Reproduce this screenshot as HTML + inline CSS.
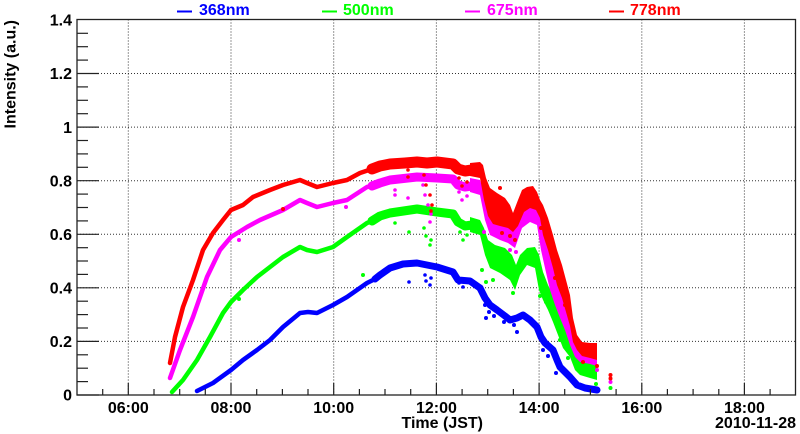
<!DOCTYPE html>
<html>
<head>
<meta charset="utf-8">
<style>
html,body{margin:0;padding:0;background:#fff;}
svg{display:block;}
text{font-family:"Liberation Sans",Arial,sans-serif;font-weight:bold;font-size:16px;fill:#000;}
</style>
</head>
<body>
<svg width="800" height="434" viewBox="0 0 800 434" xmlns="http://www.w3.org/2000/svg">
<rect x="0" y="0" width="800" height="434" fill="#fff"/>

<!-- grid -->
<g stroke="#333" stroke-width="1" stroke-dasharray="1 2" fill="none">
  <line x1="77" y1="341.4" x2="795.5" y2="341.4"/>
  <line x1="77" y1="287.8" x2="795.5" y2="287.8"/>
  <line x1="77" y1="234.3" x2="795.5" y2="234.3"/>
  <line x1="77" y1="180.7" x2="795.5" y2="180.7"/>
  <line x1="77" y1="127.1" x2="795.5" y2="127.1"/>
  <line x1="77" y1="73.5" x2="795.5" y2="73.5"/>
  <line x1="128.3" y1="19.5" x2="128.3" y2="395"/>
  <line x1="231" y1="19.5" x2="231" y2="395"/>
  <line x1="333.7" y1="19.5" x2="333.7" y2="395"/>
  <line x1="436.4" y1="19.5" x2="436.4" y2="395"/>
  <line x1="539.1" y1="19.5" x2="539.1" y2="395"/>
  <line x1="641.8" y1="19.5" x2="641.8" y2="395"/>
  <line x1="744.4" y1="19.5" x2="744.4" y2="395"/>
</g>

<!-- data -->
<g fill="none" stroke-linejoin="round" stroke-linecap="round">
  <!-- blue 368nm -->
  <polyline stroke="#0000ff" stroke-width="4.5" points="197,391 213,383 231,370 243,360 257,350 270,340 283,327 300,313 308,312 317,313 333,305 347,297 367,283 375,279"/>
  <polyline stroke="#0000ff" stroke-width="7" points="375,279 380,275 390,268 403,264 417,263 437,267 453,272 458,280 470,281 480,288"/>
  <polyline stroke="#0000ff" stroke-width="7" points="480,288 485,298 490,305 497,310 505,316 510,320 517,318 523,315 530,320 537,327 541,337 545,343 553,350 557,360 560,367 565,372 570,377 577,385 585,388 597,390"/>
  <g fill="#0000ff" stroke="none">
    <circle cx="409" cy="282" r="1.8"/><circle cx="425" cy="275" r="1.8"/><circle cx="426" cy="281" r="1.8"/>
    <circle cx="431" cy="278" r="1.8"/><circle cx="430" cy="285" r="1.8"/><circle cx="459" cy="283" r="1.8"/>
    <circle cx="463" cy="287" r="1.8"/>
    <circle cx="485" cy="305" r="2"/><circle cx="489" cy="312" r="2"/><circle cx="494" cy="316" r="2"/>
    <circle cx="504" cy="322" r="2"/><circle cx="514" cy="325" r="2"/><circle cx="517" cy="332" r="2"/>
    <circle cx="543" cy="350" r="2"/><circle cx="548" cy="356" r="2"/><circle cx="486" cy="318" r="2"/>
    <circle cx="556" cy="373" r="2"/>
  </g>

  <!-- green 500nm -->
  <polyline stroke="#00ff00" stroke-width="4.5" points="172,392 183,380 197,360 210,337 223,313 231,302 243,290 257,277 270,267 283,257 300,247 307,250 317,252 333,247 347,237 367,223 372,221"/>
  <polyline stroke="#00ff00" stroke-width="9" points="372,221 380,216 390,213 417,209 437,212 453,214 458,222 465,226 472,225"/>
  <polygon fill="#00ff00" stroke="none" points="470,217 480,220 484,228 488,240 495,245 505,248 512,255 516,265 520,255 527,248 535,247 539,255 543,272 548,285 553,295 558,310 563,322 570,338 575,355 580,360 590,362 597,364 597,380 590,378 580,375 575,370 570,357 563,348 558,335 553,322 548,310 543,300 539,290 535,268 527,265 520,275 515,290 510,280 500,273 490,268 485,255 480,235 470,232"/>
  <g fill="#00ff00" stroke="none">
    <circle cx="239" cy="299" r="2"/><circle cx="363" cy="275" r="2"/>
    <circle cx="395" cy="223" r="1.8"/><circle cx="409" cy="232" r="1.8"/><circle cx="424" cy="228" r="1.8"/>
    <circle cx="426" cy="236" r="1.8"/><circle cx="431" cy="240" r="1.8"/><circle cx="430" cy="245" r="1.8"/>
    <circle cx="460" cy="232" r="1.8"/><circle cx="463" cy="240" r="1.8"/><circle cx="467" cy="235" r="1.8"/>
    <circle cx="486" cy="282" r="2"/><circle cx="482" cy="270" r="2"/><circle cx="493" cy="280" r="2"/>
    <circle cx="513" cy="293" r="2"/><circle cx="540" cy="296" r="2"/><circle cx="546" cy="302" r="2"/>
    <circle cx="560" cy="340" r="2"/><circle cx="568" cy="358" r="2"/><circle cx="596" cy="384" r="2"/>
    <circle cx="610.5" cy="388" r="2"/>
  </g>

  <!-- magenta 675nm -->
  <polyline stroke="#ff00ff" stroke-width="4.5" points="170,378 180,350 193,317 207,277 220,250 231,237 247,227 260,220 283,210 300,200 307,203 317,207 333,203 347,200 367,187 372,186"/>
  <polyline stroke="#ff00ff" stroke-width="9" points="372,186 380,183 390,180 417,177 437,178 453,179 458,185 465,187 472,186"/>
  <polygon fill="#ff00ff" stroke="none" points="470,178 480,180 485,195 490,205 500,210 510,215 515,225 520,210 527,203 535,203 540,212 545,230 550,245 555,265 560,285 565,300 570,315 574,335 578,348 590,350 597,350 597,366 590,364 580,362 575,357 570,345 565,330 560,318 555,305 550,290 545,268 541,250 537,225 530,222 522,228 515,248 508,243 500,240 490,235 485,220 480,195 470,192"/>
  <g fill="#ff00ff" stroke="none">
    <circle cx="239" cy="240" r="2"/><circle cx="346" cy="207" r="2"/>
    <circle cx="395" cy="190" r="1.8"/><circle cx="395" cy="195" r="1.8"/><circle cx="408" cy="198" r="1.8"/>
    <circle cx="423" cy="185" r="1.8"/><circle cx="425" cy="195" r="1.8"/><circle cx="428" cy="205" r="1.8"/>
    <circle cx="431" cy="214" r="1.8"/><circle cx="430" cy="222" r="1.8"/><circle cx="459" cy="192" r="1.8"/>
    <circle cx="462" cy="200" r="1.8"/><circle cx="467" cy="196" r="1.8"/>
    <circle cx="510" cy="250" r="2"/><circle cx="516" cy="252" r="2"/><circle cx="484" cy="232" r="2"/>
    <circle cx="562" cy="312" r="2"/><circle cx="575" cy="350" r="2"/><circle cx="597" cy="370" r="2"/>
    <circle cx="610.5" cy="382" r="2"/>
  </g>

  <!-- red 778nm -->
  <polyline stroke="#ff0000" stroke-width="4.5" points="170,363 175,337 183,307 193,280 203,250 213,233 223,220 231,210 243,205 253,197 270,190 283,185 300,180 307,183 317,187 333,183 347,180 360,173 372,169"/>
  <polyline stroke="#ff0000" stroke-width="11" points="372,169 380,166 390,164 405,163 417,162 427,163 437,162 453,164 458,169 465,171 472,170"/>
  <polygon fill="#ff0000" stroke="none" points="470,163 480,162 483,165 486,178 490,188 497,193 505,198 510,205 513,213 518,200 522,190 527,187 533,186 537,192 540,200 543,205 548,218 553,235 557,250 562,265 566,280 570,295 573,318 577,335 582,342 590,343 597,343 597,360 590,358 582,356 577,350 573,342 570,326 566,312 562,298 557,285 553,268 548,250 543,235 540,218 536,210 530,208 524,212 518,226 513,232 508,228 500,226 493,224 488,216 484,200 480,178 470,176"/>
  <g fill="#ff0000" stroke="none">
    <circle cx="283" cy="209" r="2"/>
    <circle cx="408" cy="170" r="1.8"/><circle cx="408" cy="177" r="1.8"/><circle cx="424" cy="175" r="1.8"/>
    <circle cx="426" cy="185" r="1.8"/><circle cx="430" cy="195" r="1.8"/><circle cx="432" cy="205" r="1.8"/>
    <circle cx="431" cy="211" r="1.8"/><circle cx="459" cy="178" r="1.8"/><circle cx="462" cy="186" r="1.8"/>
    <circle cx="467" cy="182" r="1.8"/>
    <circle cx="502" cy="233" r="2"/><circle cx="510" cy="236" r="2"/><circle cx="515" cy="240" r="2"/>
    <circle cx="541" cy="228" r="2"/><circle cx="555" cy="278" r="2"/><circle cx="565" cy="305" r="2"/>
    <circle cx="583" cy="362" r="2"/><circle cx="597" cy="366" r="2"/><circle cx="500" cy="188" r="2"/>
    <circle cx="610.5" cy="375" r="2"/><circle cx="610.5" cy="378.5" r="2"/>
  </g>
</g>

<!-- frame -->
<rect x="77" y="19.5" width="718.5" height="375.5" fill="none" stroke="#222" stroke-width="1.3"/>

<!-- y ticks -->
<g stroke="#222" stroke-width="1.2">
  <line x1="77" y1="395" x2="99" y2="395"/>
  <line x1="77" y1="341.4" x2="99" y2="341.4"/>
  <line x1="77" y1="287.8" x2="99" y2="287.8"/>
  <line x1="77" y1="234.3" x2="99" y2="234.3"/>
  <line x1="77" y1="180.7" x2="99" y2="180.7"/>
  <line x1="77" y1="127.1" x2="99" y2="127.1"/>
  <line x1="77" y1="73.5" x2="99" y2="73.5"/>
  <line x1="77" y1="381.6" x2="88" y2="381.6"/>
  <line x1="77" y1="368.2" x2="88" y2="368.2"/>
  <line x1="77" y1="354.8" x2="88" y2="354.8"/>
  <line x1="77" y1="328.0" x2="88" y2="328.0"/>
  <line x1="77" y1="314.6" x2="88" y2="314.6"/>
  <line x1="77" y1="301.2" x2="88" y2="301.2"/>
  <line x1="77" y1="274.4" x2="88" y2="274.4"/>
  <line x1="77" y1="261.0" x2="88" y2="261.0"/>
  <line x1="77" y1="247.7" x2="88" y2="247.7"/>
  <line x1="77" y1="220.9" x2="88" y2="220.9"/>
  <line x1="77" y1="207.5" x2="88" y2="207.5"/>
  <line x1="77" y1="194.1" x2="88" y2="194.1"/>
  <line x1="77" y1="167.3" x2="88" y2="167.3"/>
  <line x1="77" y1="153.9" x2="88" y2="153.9"/>
  <line x1="77" y1="140.5" x2="88" y2="140.5"/>
  <line x1="77" y1="113.7" x2="88" y2="113.7"/>
  <line x1="77" y1="100.3" x2="88" y2="100.3"/>
  <line x1="77" y1="86.9" x2="88" y2="86.9"/>
  <line x1="77" y1="60.1" x2="88" y2="60.1"/>
  <line x1="77" y1="46.7" x2="88" y2="46.7"/>
  <line x1="77" y1="33.3" x2="88" y2="33.3"/>
</g>

<!-- x ticks -->
<g stroke="#222" stroke-width="1.2">
  <line x1="102.7" y1="395" x2="102.7" y2="389"/>
  <line x1="128.3" y1="395" x2="128.3" y2="383"/>
  <line x1="154.0" y1="395" x2="154.0" y2="389"/>
  <line x1="179.7" y1="395" x2="179.7" y2="389"/>
  <line x1="205.3" y1="395" x2="205.3" y2="389"/>
  <line x1="231.0" y1="395" x2="231.0" y2="383"/>
  <line x1="256.7" y1="395" x2="256.7" y2="389"/>
  <line x1="282.4" y1="395" x2="282.4" y2="389"/>
  <line x1="308.0" y1="395" x2="308.0" y2="389"/>
  <line x1="333.7" y1="395" x2="333.7" y2="383"/>
  <line x1="359.4" y1="395" x2="359.4" y2="389"/>
  <line x1="385.0" y1="395" x2="385.0" y2="389"/>
  <line x1="410.7" y1="395" x2="410.7" y2="389"/>
  <line x1="436.4" y1="395" x2="436.4" y2="383"/>
  <line x1="462.1" y1="395" x2="462.1" y2="389"/>
  <line x1="487.7" y1="395" x2="487.7" y2="389"/>
  <line x1="513.4" y1="395" x2="513.4" y2="389"/>
  <line x1="539.1" y1="395" x2="539.1" y2="383"/>
  <line x1="564.7" y1="395" x2="564.7" y2="389"/>
  <line x1="590.4" y1="395" x2="590.4" y2="389"/>
  <line x1="616.1" y1="395" x2="616.1" y2="389"/>
  <line x1="641.8" y1="395" x2="641.8" y2="383"/>
  <line x1="667.4" y1="395" x2="667.4" y2="389"/>
  <line x1="693.1" y1="395" x2="693.1" y2="389"/>
  <line x1="718.8" y1="395" x2="718.8" y2="389"/>
  <line x1="744.4" y1="395" x2="744.4" y2="383"/>
  <line x1="770.1" y1="395" x2="770.1" y2="389"/>
</g>

<!-- y labels -->
<g text-anchor="end">
  <text x="72" y="400.7">0</text>
  <text x="72" y="347.1">0.2</text>
  <text x="72" y="293.5">0.4</text>
  <text x="72" y="240.0">0.6</text>
  <text x="72" y="186.4">0.8</text>
  <text x="72" y="132.8">1</text>
  <text x="72" y="79.2">1.2</text>
  <text x="72" y="25.6">1.4</text>
</g>

<!-- x labels -->
<g text-anchor="middle">
  <text x="128.3" y="413">06:00</text>
  <text x="231" y="413">08:00</text>
  <text x="333.7" y="413">10:00</text>
  <text x="436.4" y="413">12:00</text>
  <text x="539.1" y="413">14:00</text>
  <text x="641.8" y="413">16:00</text>
  <text x="744.4" y="413">18:00</text>
</g>
<text x="483" y="428" text-anchor="end">Time (JST)</text>
<text x="796" y="428" text-anchor="end">2010-11-28</text>

<!-- y title -->
<text transform="translate(15.5,20) rotate(-90)" text-anchor="end">Intensity (a.u.)</text>

<!-- legend -->
<line x1="177" y1="11.5" x2="192" y2="11.5" stroke="#0000ff" stroke-width="2"/>
<text x="199" y="15" style="fill:#0000ff">368nm</text>
<line x1="322" y1="11.5" x2="337" y2="11.5" stroke="#00ff00" stroke-width="2"/>
<text x="343" y="15" style="fill:#00ff00">500nm</text>
<line x1="465" y1="11.5" x2="480" y2="11.5" stroke="#ff00ff" stroke-width="2"/>
<text x="487" y="15" style="fill:#ff00ff">675nm</text>
<line x1="609" y1="11.5" x2="624" y2="11.5" stroke="#ff0000" stroke-width="2"/>
<text x="630" y="15" style="fill:#ff0000">778nm</text>
</svg>
</body>
</html>
